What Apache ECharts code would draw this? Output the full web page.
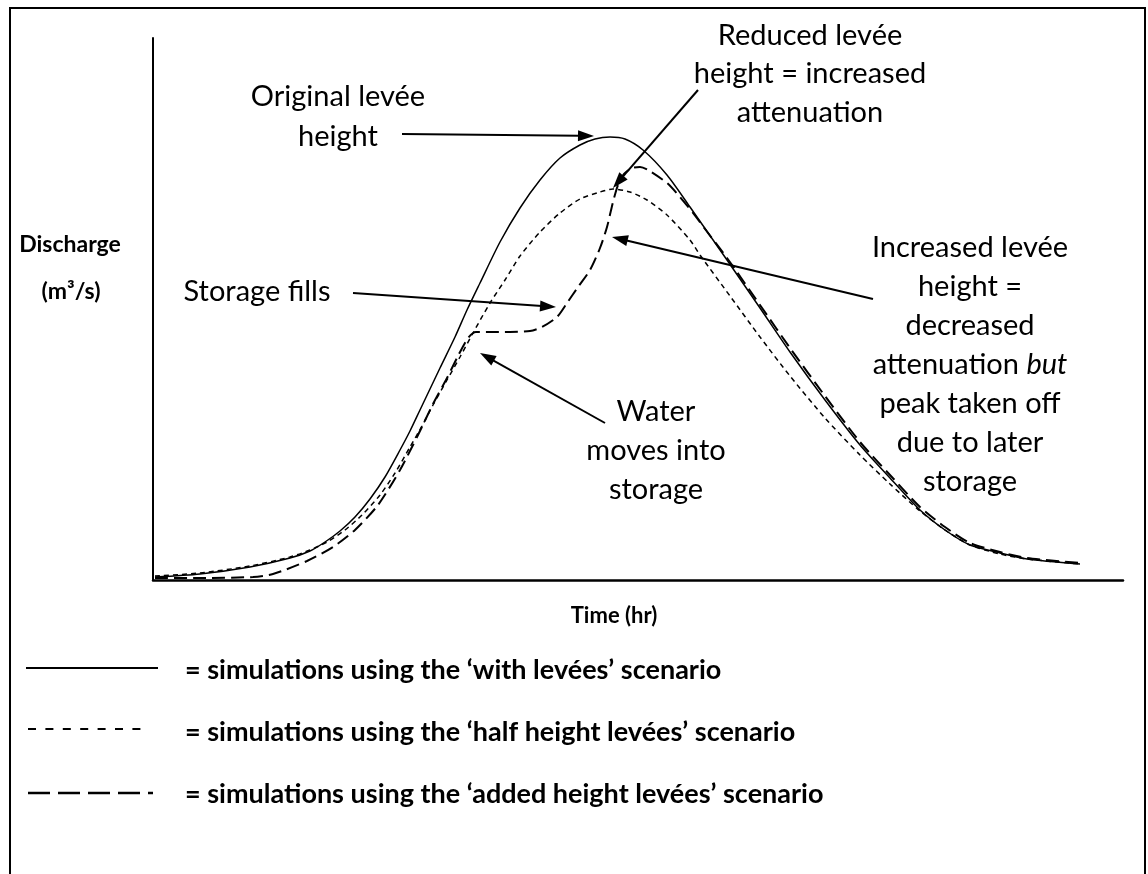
<!DOCTYPE html>
<html>
<head>
<meta charset="utf-8">
<script src="https://cdn.jsdelivr.net/npm/echarts@6/dist/echarts.min.js"></script>
<style>
  html, body { margin: 0; padding: 0; background: #fff; }
  #chart { width: 1148px; height: 874px; }
</style>
</head>
<body>
<div id="chart"></div>
<script>
// Hydrographs: [time (hr), discharge (m3/s)]
const withLevees = [
  [0.2, 1.5], [4.7, 3], [9.7, 6.5], [13.7, 11], [15.7, 14.5], [17.2, 19], [18.7, 24.5],
  [20.2, 31.5], [21.7, 40.5], [23.2, 51.5], [24.7, 65], [25.7, 74.5], [26.7, 85],
  [28.7, 106], [30.2, 121.5], [31.4, 135], [32.7, 148.5], [34.7, 169], [36.7, 186],
  [38.7, 200], [40.7, 211], [42.7, 217.5], [44.2, 220.5], [45.7, 221.5], [47.2, 220.5],
  [49.0, 215], [51.4, 202.5], [53.7, 186.5], [57.4, 160], [60.7, 136], [63.7, 114],
  [67.2, 90], [70.7, 67.5], [73.7, 51], [76.7, 35], [79.2, 25], [81.7, 17.5],
  [84.7, 13.5], [87.4, 10.5], [92.7, 8]
];
const halfHeightLevees = [
  [0.2, 2], [4.7, 3.5], [9.7, 7], [13.7, 11.5], [15.7, 15], [17.4, 19], [19.2, 25],
  [20.9, 32.5], [22.7, 42.5], [24.2, 53.5], [25.7, 66.5], [26.9, 77], [28.0, 87.5],
  [29.4, 100], [30.7, 111.5], [32.0, 123.5], [33.7, 138.5], [35.2, 150], [36.7, 162],
  [38.7, 174], [40.7, 183.5], [42.7, 190.5], [44.7, 194], [46.0, 195.5], [47.7, 194],
  [49.4, 190], [51.4, 182.5], [53.7, 170], [54.7, 162.5], [57.7, 142], [60.7, 121.5],
  [63.7, 102], [67.2, 81], [70.7, 62.5], [73.7, 48], [76.7, 34.5], [79.2, 25],
  [81.7, 17.5], [84.7, 13], [87.4, 10.5], [92.7, 8]
];
const addedHeightLevees = [
  [0.2, 1], [4.7, 1], [10.0, 1.5], [12.0, 3], [15.4, 9.5], [18.0, 16.5], [20.2, 25],
  [22.5, 37.5], [24.7, 55], [26.5, 72.5], [28.0, 88], [29.4, 101], [30.5, 112],
  [31.5, 121], [32.3, 124], [33.7, 124], [35.7, 124], [37.7, 124.5], [38.9, 126.5],
  [40.4, 131.5], [41.4, 138.5], [42.5, 146.5], [43.7, 155], [44.7, 166], [45.4, 176.5],
  [46.0, 189], [46.5, 197.5], [47.1, 203], [47.9, 206], [48.7, 206.5], [49.5, 205],
  [51.4, 198.5], [52.7, 191.5], [54.0, 183.5], [55.2, 175.5], [57.4, 161], [60.7, 137.5],
  [63.7, 116], [67.2, 92], [70.7, 69], [73.7, 52.5], [76.7, 36.5], [79.2, 26.5],
  [81.7, 18.5], [84.7, 14], [87.4, 11], [92.7, 8.5]
];

// Callout arrows, tail -> head, in data units
const arrowTails = [[24.9, 223], [54.5, 245], [20.0, 143.5], [72.0, 140.5], [45.2, 78.5]];
const arrowHeads = [[44.1, 222], [46.0, 196], [40.3, 136.5], [45.9, 171.5], [32.7, 113.5]];

const legendLabels = [
  '= simulations using the \u2018with levées\u2019 scenario',
  '= simulations using the \u2018half height levées\u2019 scenario',
  '= simulations using the \u2018added height levées\u2019 scenario'
];

const FONT = 'Lato, "Liberation Sans", sans-serif';
const NOTE_FONT = '29px ' + FONT;
const chart = echarts.init(document.getElementById('chart'), null, { renderer: 'canvas' });

function note(id, text, x, y, lineHeight, extra) {
  return {
    type: 'text', id: id, x: x, y: y, silent: true,
    style: Object.assign({
      text: text, fill: '#000', font: NOTE_FONT,
      align: 'center', verticalAlign: 'middle', lineHeight: lineHeight || 39
    }, extra || {})
  };
}

const staticGraphics = [
  { type: 'rect', id: 'frame', silent: true,
    shape: { x: 10, y: 8, width: 1135, height: 900 },
    style: { fill: 'none', stroke: '#000', lineWidth: 2 } },
  note('t1', 'Original levée\nheight', 338, 117, 40),
  note('t2', 'Reduced levée\nheight = increased\nattenuation', 810, 74, 38.5),
  note('t3', 'Storage fills', 257, 292),
  {
    type: 'text', id: 't4', x: 970, y: 365, silent: true,
    style: {
      text: 'Increased levée\nheight =\ndecreased\n{n|attenuation }{i|but}\npeak taken off\ndue to later\nstorage',
      fill: '#000', font: NOTE_FONT, align: 'center', verticalAlign: 'middle', lineHeight: 39,
      rich: {
        n: { font: NOTE_FONT, fill: '#000', lineHeight: 39 },
        i: { font: 'italic ' + NOTE_FONT, fill: '#000', lineHeight: 39 }
      }
    }
  },
  note('t5', 'Water\nmoves into\nstorage', 656, 451, 39),
  note('yl1', 'Discharge', 70, 245, 24, { font: 'bold 23px ' + FONT }),
  note('yl2', '(m\u00B3/s)', 71, 292, 24, { font: 'bold 23px ' + FONT }),
  note('xl', 'Time (hr)', 614, 616, 24, { font: 'bold 22px ' + FONT }),
  { type: 'line', id: 'lg1', silent: true, shape: { x1: 26, y1: 668, x2: 158, y2: 668 },
    style: { stroke: '#000', lineWidth: 2 } },
  { type: 'line', id: 'lg2', silent: true, shape: { x1: 28, y1: 729, x2: 148, y2: 729 },
    style: { stroke: '#000', lineWidth: 2, lineDash: [8, 9.4] } },
  { type: 'line', id: 'lg3', silent: true, shape: { x1: 28, y1: 793, x2: 153, y2: 793 },
    style: { stroke: '#000', lineWidth: 2.5, lineDash: [22, 8] } }
];
legendLabels.forEach(function (t, i) {
  staticGraphics.push({
    type: 'text', id: 'lgt' + i, x: 185, y: [670, 732, 794][i], silent: true,
    style: { text: t, fill: '#000', font: 'bold 27px ' + FONT, align: 'left', verticalAlign: 'middle' }
  });
});

chart.setOption({
  animation: false,
  backgroundColor: '#fff',
  grid: { left: 153, right: 25, top: 38, bottom: 294 },
  xAxis: {
    type: 'value', min: 0, max: 97,
    axisLine: { show: true, lineStyle: { color: '#000', width: 2.5 } },
    axisTick: { show: false }, axisLabel: { show: false }, splitLine: { show: false }
  },
  yAxis: {
    type: 'value', min: 0, max: 271,
    axisLine: { show: true, lineStyle: { color: '#000', width: 2 } },
    axisTick: { show: false }, axisLabel: { show: false }, splitLine: { show: false }
  },
  series: [
    { name: 'with levées', type: 'line', data: withLevees, smooth: 0.25, showSymbol: false,
      lineStyle: { color: '#000', width: 1.5 } },
    { name: 'half height levées', type: 'line', data: halfHeightLevees, smooth: 0.25, showSymbol: false,
      lineStyle: { color: '#000', width: 1.5, type: [5, 4] } },
    { name: 'added height levées', type: 'line', data: addedHeightLevees, smooth: 0.25, showSymbol: false,
      lineStyle: { color: '#000', width: 2, type: [13, 6] } }
  ],
  graphic: staticGraphics
});

// Callout arrows: shaft plus filled triangular head, placed through the grid's scales
const arrowGraphics = [];
arrowTails.forEach(function (tail, i) {
  const p0 = chart.convertToPixel({ gridIndex: 0 }, tail);
  const p1 = chart.convertToPixel({ gridIndex: 0 }, arrowHeads[i]);
  const dx = p1[0] - p0[0], dy = p1[1] - p0[1];
  const len = Math.sqrt(dx * dx + dy * dy);
  const ux = dx / len, uy = dy / len;
  const L = 16, W = 5.5;
  const bx = p1[0] - ux * L, by = p1[1] - uy * L;
  arrowGraphics.push({
    type: 'line', id: 'ash' + i, silent: true,
    shape: { x1: p0[0], y1: p0[1], x2: bx + ux * 2, y2: by + uy * 2 },
    style: { stroke: '#000', lineWidth: 2 }
  });
  arrowGraphics.push({
    type: 'polygon', id: 'ahd' + i, silent: true,
    shape: { points: [[p1[0], p1[1]], [bx - uy * W, by + ux * W], [bx + uy * W, by - ux * W]] },
    style: { fill: '#000' }
  });
});
chart.setOption({ graphic: staticGraphics.concat(arrowGraphics) });
</script>
</body>
</html>
